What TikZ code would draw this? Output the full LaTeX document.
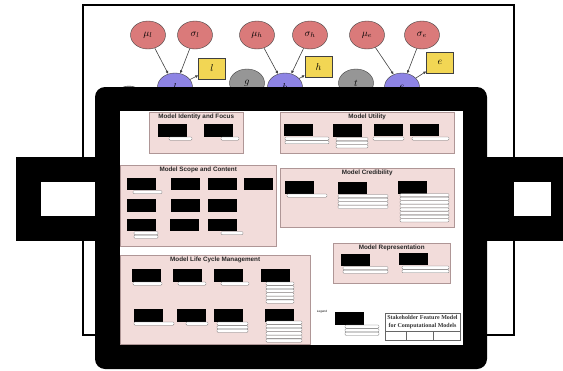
\documentclass[tikz,border=0pt]{standalone}
\usepackage{fontspec}
\newfontfamily\postfont{Liberation Sans}
\newfontfamily\titlefont{Liberation Serif}
\usetikzlibrary{arrows.meta,positioning,shapes.geometric}
\definecolor{priorred}{RGB}{218,122,122}
\definecolor{latblue}{RGB}{142,132,228}
\definecolor{hidgray}{RGB}{150,150,150}
\definecolor{obsyellow}{RGB}{242,214,84}
\definecolor{grppink}{RGB}{242,220,218}
\definecolor{grpline}{RGB}{175,150,150}
\tikzset{
  prior/.style={ellipse, draw=black!75, fill=priorred, minimum width=35pt,
                minimum height=28pt, inner sep=0pt},
  latent/.style={prior, fill=latblue},
  hid/.style={prior, fill=hidgray},
  obs/.style={draw=black!75, fill=obsyellow, minimum width=27pt, minimum height=21pt,
              inner sep=0pt},
  dep/.style={-{Latex[length=3pt,width=3pt]}, black!75, semithick},
  grp/.style={draw=grpline, fill=grppink, anchor=north west, inner sep=0pt},
  grptitle/.style={font=\postfont\bfseries\fontsize{6.3}{7}\selectfont, text=black!85, inner sep=0pt},
  feat/.style={fill=black, minimum width=29pt, minimum height=12.5pt, inner sep=0pt},
  attr/.style={draw=black!55, fill=white, rounded corners=1pt, line width=0.3pt}
}
% stacked attribute bars: left x, top y, right x, count
\newcommand\attrs[4]{\foreach \k in {1,...,#4}{\draw[attr] (#1,{#2+(\k-1)*3.6}) rectangle (#3,{#2+\k*3.6-0.4});}}

\begin{document}
\begin{tikzpicture}[x=1pt, y=-1pt]
\useasboundingbox (0,0) rectangle (563,370);
\draw[line width=1.2pt] (83,5) rectangle (514,335);

% graphical model behind the frame
\node[prior] (mul) at (148,35) {$\mu_l$};
\node[prior] (sigl) at (195,35) {$\sigma_l$};
\node[prior] (muh) at (257,35) {$\mu_h$};
\node[prior] (sigh) at (310,35) {$\sigma_h$};
\node[prior] (mue) at (367,35) {$\mu_e$};
\node[prior] (sige) at (422,35) {$\sigma_e$};
\node[hid, minimum width=30pt] (q) at (129,100) {};
\node[latent] (l) at (175,87) {$l$};
\node[hid] (g) at (247,83) {$g$};
\node[latent] (h) at (285,87) {$h$};
\node[hid] (t) at (356,83) {$t$};
\node[latent] (e) at (402,87) {$e$};
\node[obs] (lo) at (212,68.5) {$l$};
\node[obs] (ho) at (318.5,67) {$h$};
\node[obs] (eo) at (440,62.5) {$e$};
\draw[dep] (mul) -- (l);
\draw[dep] (sigl) -- (l);
\draw[dep] (muh) -- (h);
\draw[dep] (sigh) -- (h);
\draw[dep] (mue) -- (e);
\draw[dep] (sige) -- (e);
\draw[dep] (l) -- (lo);
\draw[dep] (h) -- (ho);
\draw[dep] (e) -- (eo);

% handles and frame
\fill (16,157) rectangle (96,241);
\fill[white] (41,182) rectangle (96,216);
\fill (486,157) rectangle (563,241);
\fill[white] (514,182) rectangle (551,216);
\fill[rounded corners=10pt] (95,87) rectangle (487,369);
\fill[white] (120,111) rectangle (463,345);

% feature groups
\node[grp, minimum width=94pt, minimum height=41pt] (gid) at (149,112) {};
\node[grptitle, below=2pt of gid.north] {Model Identity and Focus};
\node[grp, minimum width=174pt, minimum height=41pt] (gut) at (280,112) {};
\node[grptitle, below=2pt of gut.north] {Model Utility};
\node[grp, minimum width=156pt, minimum height=81pt] (gsc) at (120,165) {};
\node[grptitle, below=2pt of gsc.north] {Model Scope and Content};
\node[grp, minimum width=174pt, minimum height=59pt] (gcr) at (280,168) {};
\node[grptitle, below=2pt of gcr.north] {Model Credibility};
\node[grp, minimum width=117pt, minimum height=40pt] (grp) at (333,243) {};
\node[grptitle, below=2pt of grp.north] {Model Representation};
\node[grp, minimum width=190pt, minimum height=89pt] (glc) at (120,255) {};
\node[grptitle, below=2pt of glc.north] {Model Life Cycle Management};

% features
\node[feat] (id1) at (172.5,130.5) {};
\node[feat] (id2) at (218,130.5) {};
\attrs{169}{137}{192}{1}
\attrs{221}{137}{239}{1}

\node[feat] (ut1) at (298,130) {};
\node[feat] (ut2) at (347.5,130.5) {};
\node[feat] (ut3) at (388.5,130) {};
\node[feat] (ut4) at (424,130) {};
\attrs{285}{137}{329}{2}
\attrs{336}{137.5}{368}{3}
\attrs{373}{137}{404}{1}
\attrs{412}{137}{449}{1}

\node[feat] (sc1) at (141.5,184) {};
\node[feat] (sc2) at (185.5,184) {};
\node[feat] (sc3) at (222.5,184) {};
\node[feat] (sc4) at (258.5,184) {};
\node[feat] (sc5) at (141.5,205.5) {};
\node[feat] (sc6) at (185.5,205.5) {};
\node[feat] (sc7) at (222.5,205.5) {};
\node[feat] (sc8) at (141.5,225) {};
\node[feat] (sc9) at (184,225) {};
\node[feat] (sc10) at (222.5,225) {};
\attrs{133}{190.5}{162}{1}
\attrs{134}{231.5}{158}{2}
\attrs{221}{231.5}{243}{1}

\node[feat] (cr1) at (299,187.5) {};
\node[feat] (cr2) at (352,188) {};
\node[feat] (cr3) at (412.5,187.5) {};
\attrs{287}{194}{327}{1}
\attrs{338}{194.5}{388}{4}
\attrs{400}{193.5}{449}{8}

\node[feat] (rp1) at (355.5,260) {};
\node[feat] (rp2) at (413.5,259) {};
\attrs{343}{266.5}{388}{2}
\attrs{402}{266}{449}{2}

\node[feat] (lc1) at (146.5,275.5) {};
\node[feat] (lc2) at (187.5,275.5) {};
\node[feat] (lc3) at (228.5,275.5) {};
\node[feat] (lc4) at (275.5,275.5) {};
\node[feat] (lc5) at (148.5,315.5) {};
\node[feat] (lc6) at (191.5,315.5) {};
\node[feat] (lc7) at (228.5,315.5) {};
\node[feat] (lc8) at (279,315.5) {};
\attrs{133}{282}{162}{1}
\attrs{178}{282}{206}{1}
\attrs{221}{282}{249}{1}
\attrs{266}{282}{294}{6}
\attrs{134}{322}{174}{1}
\attrs{186}{322}{208}{1}
\attrs{217}{322}{248}{3}
\attrs{266}{321}{302}{6}

% legend and title block
\node[font=\postfont\fontsize{3}{3.5}\selectfont, inner sep=0pt] (leg) at (322,312) {Legend};
\node[feat] (lg) at (349.5,318.5) {};
\attrs{345}{325}{379}{3}
\draw[black!60, line width=0.4pt] (385,313) rectangle (460,340);
\draw[black!60, line width=0.4pt] (385,331) -- (460,331) (406,331) -- (406,340) (433,331) -- (433,340);
\node[font=\titlefont\bfseries\fontsize{6}{7.5}\selectfont, text=black!80, align=center, inner sep=0pt] (ttl) at (422.5,322) {Stakeholder Feature Model\\for Computational Models};
\end{tikzpicture}
\end{document}
